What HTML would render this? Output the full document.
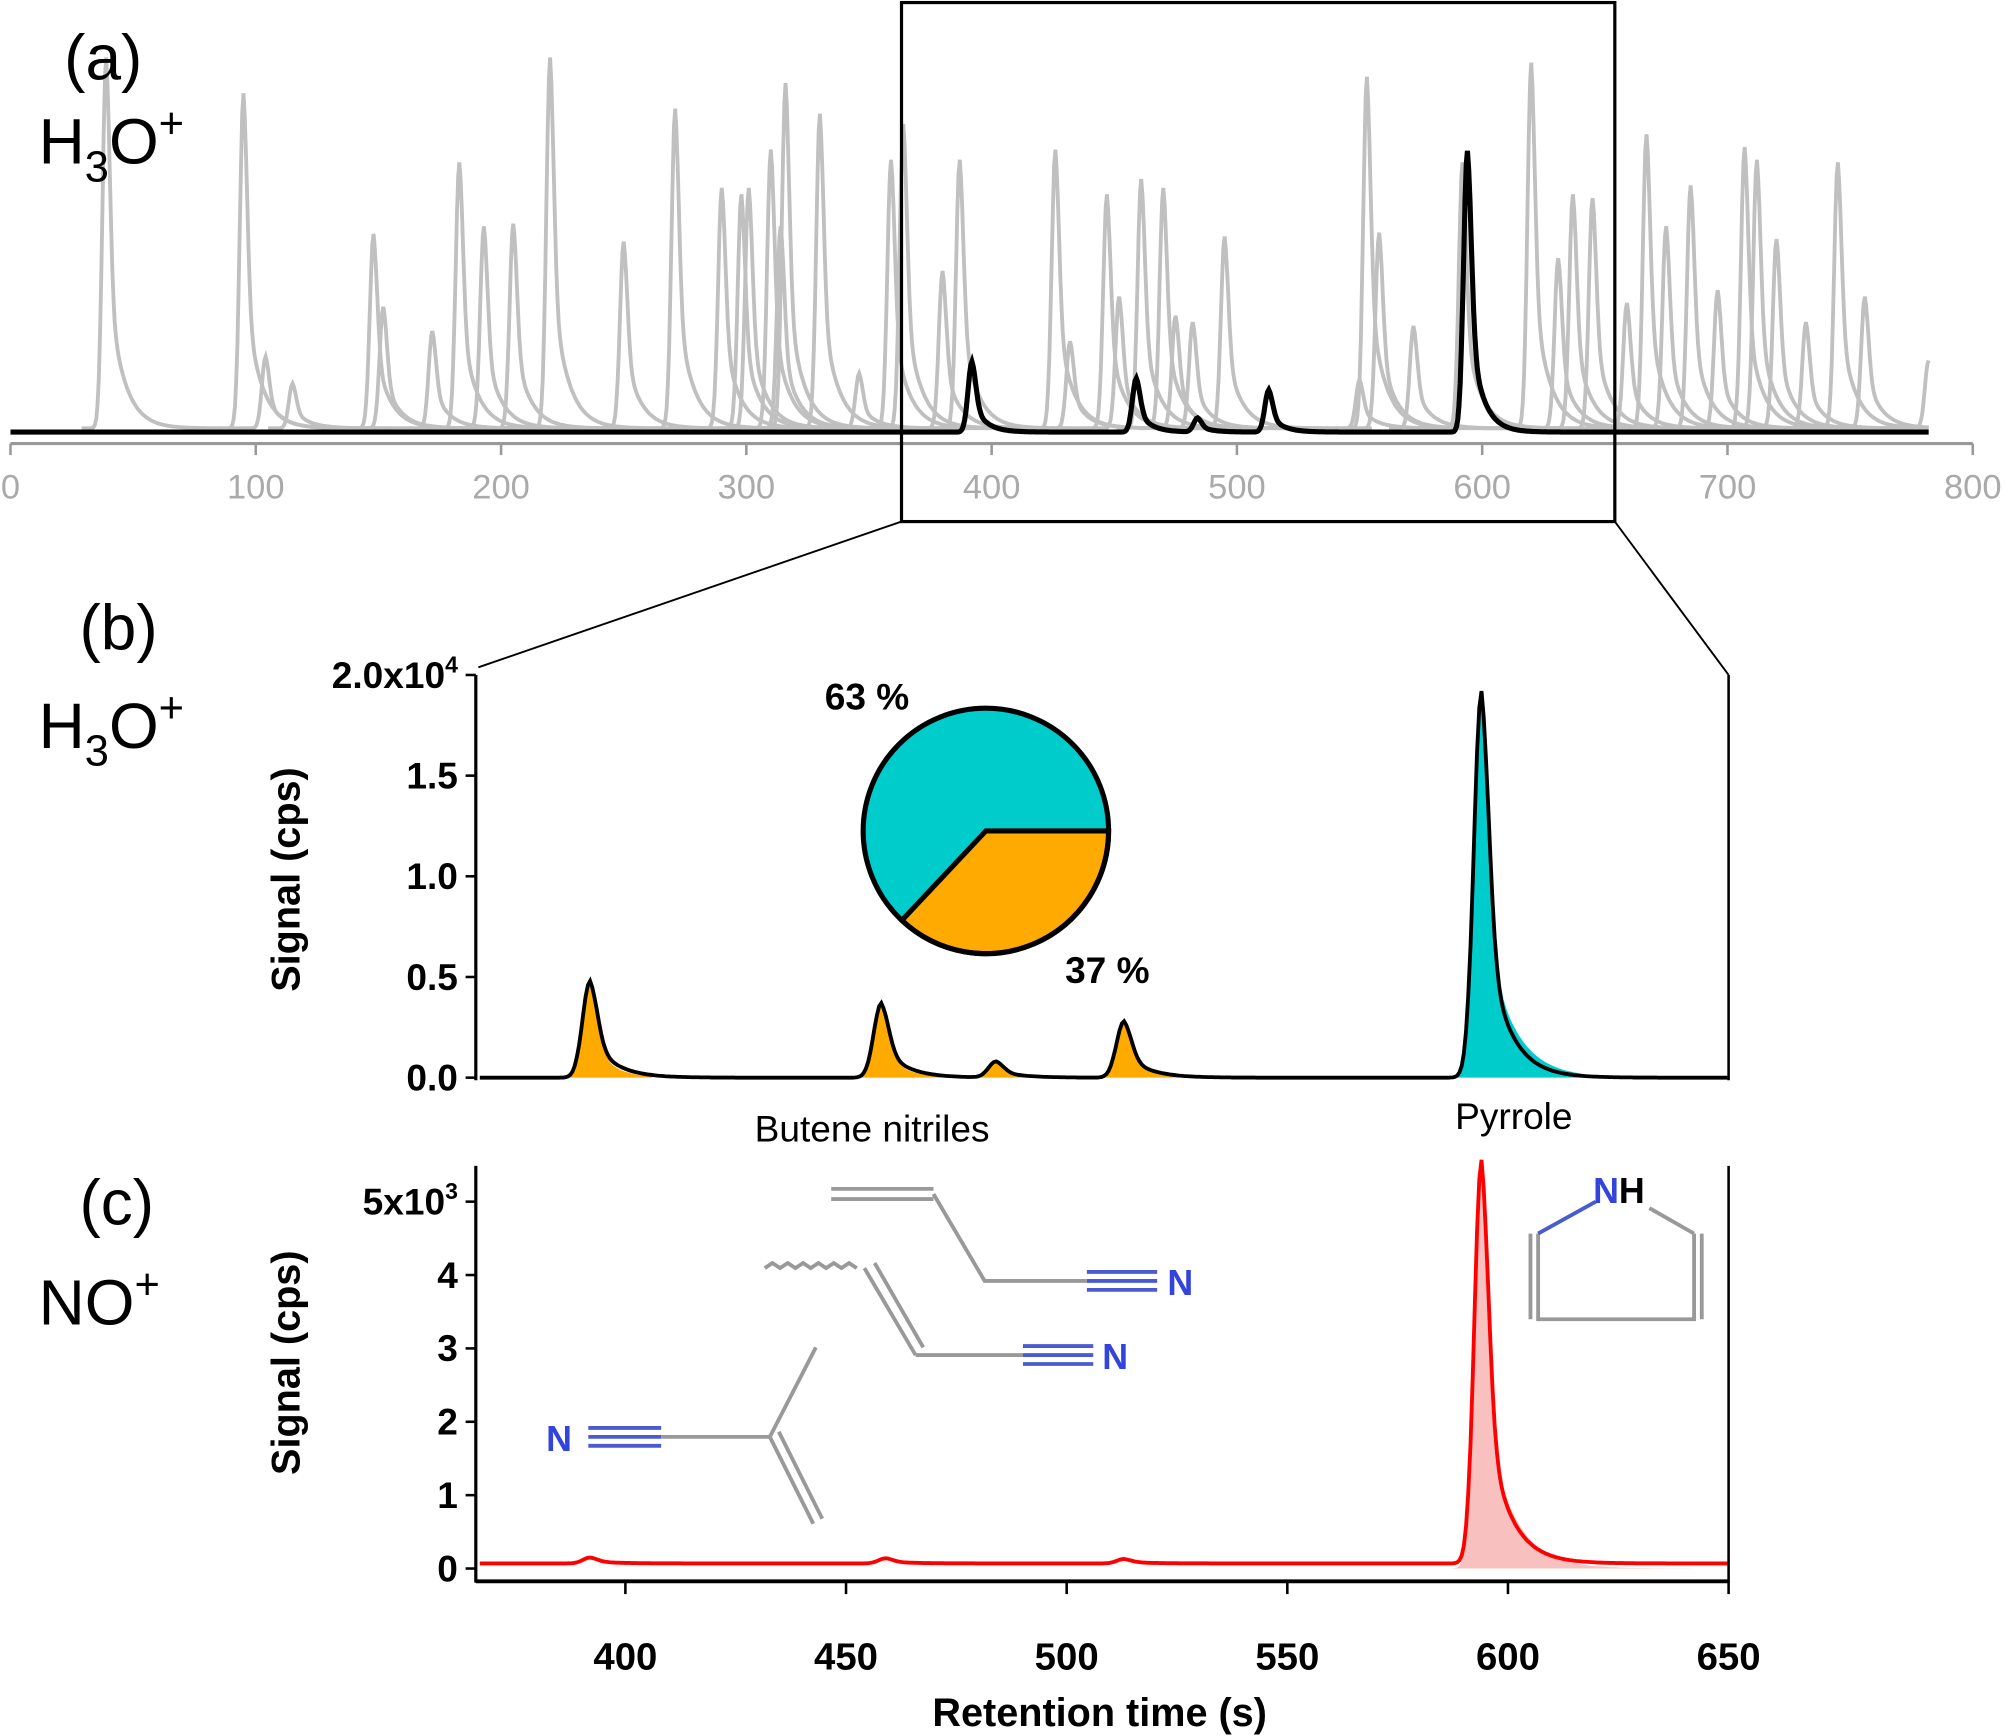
<!DOCTYPE html>
<html><head><meta charset="utf-8"><style>
html,body{margin:0;padding:0;background:#fff}
svg{display:block}
text{font-family:"Liberation Sans",sans-serif}
</style></head><body>
<svg id="fig" width="2005" height="1736" viewBox="0 0 1568 1358" xmlns="http://www.w3.org/2000/svg">
<g id="pa"></g>
<g id="pb"></g>
<g id="pc"></g>
<g font-size="50" fill="#000">
<text x="50" y="62">(a)</text>
<text x="30" y="128">H<tspan font-size="34" dy="14">3</tspan><tspan dy="-14">O</tspan><tspan font-size="34" dy="-20">+</tspan></text>
<text x="62" y="508">(b)</text>
<text x="30" y="585">H<tspan font-size="34" dy="14">3</tspan><tspan dy="-14">O</tspan><tspan font-size="34" dy="-20">+</tspan></text>
<text x="62" y="958">(c)</text>
<text x="30" y="1036">NO<tspan font-size="34" dy="-20">+</tspan></text>
</g>
<rect x="705" y="2" width="558" height="406" fill="none" stroke="#000" stroke-width="2.5"/>
<line x1="705" y1="408" x2="374" y2="522" stroke="#000" stroke-width="1.5"/>
<line x1="1263" y1="408" x2="1352" y2="528" stroke="#000" stroke-width="1.5"/>
<g stroke="#999" stroke-width="3" fill="none">
<g>
<polyline points="1203,965 1203,1032 1325,1032 1325,965" />
<line x1="1197" y1="965" x2="1197" y2="1032"/><line x1="1331" y1="965" x2="1331" y2="1032"/>
<line x1="1203" y1="965" x2="1248" y2="940" stroke="#4a5bd0"/><line x1="1325" y1="965" x2="1290" y2="945"/>
</g>
<g>
<line x1="650" y1="930" x2="730" y2="930"/><line x1="650" y1="938" x2="730" y2="938"/>
<polyline points="730,934 770,1002 850,1002"/>
<line x1="850" y1="995" x2="905" y2="995" stroke="#4a5bd0"/><line x1="850" y1="1002" x2="905" y2="1002" stroke="#4a5bd0"/><line x1="850" y1="1009" x2="905" y2="1009" stroke="#4a5bd0"/>
</g>
<g>
<path d="M598,992 l6,-4 l6,4 l6,-4 l6,4 l6,-4 l6,4 l6,-4 l6,4 l6,-4 l6,4 l6,-4 l6,4"/>
<line x1="676" y1="992" x2="716" y2="1060"/><line x1="684" y1="988" x2="722" y2="1054"/>
<line x1="716" y1="1060" x2="800" y2="1060"/>
<line x1="800" y1="1053" x2="855" y2="1053" stroke="#4a5bd0"/><line x1="800" y1="1060" x2="855" y2="1060" stroke="#4a5bd0"/><line x1="800" y1="1067" x2="855" y2="1067" stroke="#4a5bd0"/>
</g>
<g>
<line x1="460" y1="1117" x2="517" y2="1117" stroke="#4a5bd0"/><line x1="460" y1="1124" x2="517" y2="1124" stroke="#4a5bd0"/><line x1="460" y1="1131" x2="517" y2="1131" stroke="#4a5bd0"/>
<line x1="517" y1="1124" x2="602" y2="1124"/>
<line x1="602" y1="1124" x2="638" y2="1054"/>
<line x1="602" y1="1124" x2="636" y2="1192"/><line x1="609" y1="1120" x2="643" y2="1188"/>
</g>
</g>
<g font-weight="bold" font-size="28">
<text x="1246" y="941" fill="#3344dd">N<tspan fill="#000">H</tspan></text>
<text x="913" y="1013" fill="#3344dd">N</text>
<text x="862" y="1071" fill="#3344dd">N</text>
<text x="427" y="1135" fill="#3344dd">N</text>
</g>
</svg>
<script>
const aTicks=[0,100,200,300,400,500,600,700,800];
const grayCenters=[39,95,104,115,148,152,172,183,193,205,220,250,271,290,298,301,310,314,316,330,346,359,364,380,387,426,432,447,452,461,470,475,482,495,550,553,558,572,592,620,631,637,645,659,667,675,685,696,707,712,720,732,745,756,782];
const grayHeights=[290,262,56,35,152,95,76,208,158,160,290,146,250,188,183,188,218,158,270,246,43,210,238,123,210,218,68,183,103,195,188,88,83,150,38,275,153,80,208,286,133,183,180,98,230,158,190,108,220,210,148,83,208,103,53];
const blackCenters=[392,459,484,513,594];
const blackHeights=[55,42,11,33,220];
const bTicks=[0,0.5,1.0,1.5,2.0];
const bCenters=[392,458,484,513,594];
const bHeights=[0.48,0.37,0.08,0.28,1.92];
const cTicks=[0,1,2,3,4,5];
const cXTicks=[400,450,500,550,600,650];
const cCenters=[392,459,513,594];
const cHeights=[0.08,0.07,0.06,5.5];
const pieValues=[63,37];

const NS="http://www.w3.org/2000/svg";
function mk(p,tag,attrs,name){const e=document.createElementNS(NS,tag);for(const k in attrs)e.setAttribute(k,attrs[k]);


p.appendChild(e);return e;}
function shape(d,s,t){if(d<0)return Math.exp(-0.5*(d/s)*(d/s));return 0.55*Math.exp(-0.5*(d/s)*(d/s))+0.45*Math.exp(-d/t);}
function sig(x,cs,hs,s,t){let v=0;for(let i=0;i<cs.length;i++)v+=hs[i]*shape(x-cs[i],s,t);return v;}

const pa=document.getElementById('pa');
const ax=v=>8+v*1535/800, ay=v=>338-v;
mk(pa,'line',{x1:8,y1:347,x2:1543,y2:347,stroke:'#999','stroke-width':2.5},'x-axis-a');
aTicks.forEach(t=>{mk(pa,'line',{x1:ax(t),y1:347,x2:ax(t),y2:356,stroke:'#999','stroke-width':2},'x-tick-a');
const tx=mk(pa,'text',{x:ax(t),y:390,'text-anchor':'middle','font-size':27,fill:'#aaa'},'x-tick-label-a');tx.textContent=t;});
for(let i=0;i<grayCenters.length;i++){let d='';for(let x=Math.max(0,grayCenters[i]-10);x<=Math.min(782,grayCenters[i]+60);x+=0.5){d+=(d?'L':'M')+ax(x).toFixed(1)+','+(ay(grayHeights[i]*shape(x-grayCenters[i],1.5,6))-3).toFixed(1);}
mk(pa,'path',{d:d,fill:'none',stroke:'#c0c0c0','stroke-width':3},'gray-trace');}
{let d='';for(let x=0;x<=782;x+=0.5){d+=(d?'L':'M')+ax(x).toFixed(1)+','+ay(sig(x,blackCenters,blackHeights,1.6,5)).toFixed(1);}
mk(pa,'path',{d:d,fill:'none',stroke:'#000','stroke-width':4},'black-trace-a');}

const pb=document.getElementById('pb');
const bx=v=>489+(v-400)*863/250, by=v=>843-v*157.5;
const x0=365,x1=650;
function area(p,cs,hs,lo,hi,fill,s,t,yf,name){let d='M'+bx(lo)+','+yf(0);for(let x=lo;x<=hi;x+=0.5)d+='L'+bx(x).toFixed(1)+','+yf(sig(x,cs,hs,s,t)).toFixed(1);d+='L'+bx(hi)+','+yf(0)+'Z';mk(p,'path',{d:d,fill:fill,stroke:'none'},name);}
for(let i=0;i<bCenters.length;i++){const lo=bCenters[i]-8,hi=bCenters[i]+(i==4?56:14);area(pb,[bCenters[i]],[bHeights[i]],lo,hi,i==4?'#00cccc':'#ffaa00',1.7,i==4?6:4,by,i==4?'pyrrole-area':'nitrile-area');}
{let d='';for(let x=x0+2;x<=x1;x+=0.5)d+=(d?'L':'M')+bx(x).toFixed(1)+','+by(sig(x,bCenters,bHeights,1.7,5)).toFixed(1);
mk(pb,'path',{d:d,fill:'none',stroke:'#000','stroke-width':3},'trace-b');}
mk(pb,'line',{x1:372,y1:528,x2:372,y2:845,stroke:'#000','stroke-width':2.5},'y-axis-b');
mk(pb,'line',{x1:1352,y1:528,x2:1352,y2:845,stroke:'#000','stroke-width':2},'right-border-b');
bTicks.forEach(t=>{mk(pb,'line',{x1:364,y1:by(t),x2:372,y2:by(t),stroke:'#000','stroke-width':2},'y-tick-b');
const tx=mk(pb,'text',{x:358,y:by(t)+10,'text-anchor':'end','font-size':29,'font-weight':'bold'},'y-tick-label-b');
if(t===2){tx.innerHTML='2.0x10<tspan font-size="18" dy="-12">4</tspan>';}else tx.textContent=t.toFixed(1);});
{const t=mk(pb,'text',{x:0,y:0,transform:'translate(234,688) rotate(-90)','text-anchor':'middle','font-size':31,'font-weight':'bold'},'y-axis-title-b');t.textContent='Signal (cps)';}
{const t=mk(pb,'text',{x:682,y:893,'text-anchor':'middle','font-size':29},'annotation-butene');t.textContent='Butene nitriles';}
{const t=mk(pb,'text',{x:1184,y:883,'text-anchor':'middle','font-size':29},'annotation-pyrrole');t.textContent='Pyrrole';}
{const cx=771,cy=650,r=96;const tot=pieValues[0]+pieValues[1];const a=pieValues[1]/tot*2*Math.PI;
const ex=cx+r*Math.cos(a),ey=cy+r*Math.sin(a);
mk(pb,'circle',{cx:cx,cy:cy,r:r,fill:'#00cccc'},'pie-slice-63');
mk(pb,'path',{d:`M${cx},${cy}L${cx+r},${cy}A${r},${r} 0 0 1 ${ex},${ey}Z`,fill:'#ffaa00',stroke:'#000','stroke-width':4},'pie-slice-37');
mk(pb,'circle',{cx:cx,cy:cy,r:r,fill:'none',stroke:'#000','stroke-width':4},'pie-outline');
let t=mk(pb,'text',{x:678,y:555,'text-anchor':'middle','font-size':29,'font-weight':'bold'},'pie-label-63');t.textContent=pieValues[0]+' %';
t=mk(pb,'text',{x:866,y:769,'text-anchor':'middle','font-size':29,'font-weight':'bold'},'pie-label-37');t.textContent=pieValues[1]+' %';}

const pc=document.getElementById('pc');
const cy_=v=>1227-v*57.4;
area(pc,[cCenters[3]],[cHeights[3]],586,648,'#f9c0c0',1.6,6,cy_,'pyrrole-area-c');
{let d='';for(let x=x0+2;x<=x1;x+=0.5)d+=(d?'L':'M')+bx(x).toFixed(1)+','+cy_(0.07+sig(x,cCenters,cHeights,1.6,5)).toFixed(1);
mk(pc,'path',{d:d,fill:'none',stroke:'#ff0000','stroke-width':3},'trace-c');}
mk(pc,'line',{x1:372,y1:912,x2:372,y2:1238,stroke:'#000','stroke-width':2.5},'y-axis-c');
mk(pc,'line',{x1:1352,y1:912,x2:1352,y2:1238,stroke:'#000','stroke-width':2},'right-border-c');
mk(pc,'line',{x1:372,y1:1237,x2:1352,y2:1237,stroke:'#000','stroke-width':3},'x-axis-c');
cTicks.forEach(t=>{mk(pc,'line',{x1:364,y1:cy_(t),x2:372,y2:cy_(t),stroke:'#000','stroke-width':2},'y-tick-c');
const tx=mk(pc,'text',{x:358,y:cy_(t)+10,'text-anchor':'end','font-size':29,'font-weight':'bold'},'y-tick-label-c');
if(t===5){tx.innerHTML='5x10<tspan font-size="18" dy="-12">3</tspan>';}else tx.textContent=t;});
cXTicks.forEach(t=>{mk(pc,'line',{x1:bx(t),y1:1237,x2:bx(t),y2:1247,stroke:'#000','stroke-width':2},'x-tick-c');
const tx=mk(pc,'text',{x:bx(t),y:1306,'text-anchor':'middle','font-size':30,'font-weight':'bold'},'x-tick-label-c');tx.textContent=t;});
{const t=mk(pc,'text',{x:0,y:0,transform:'translate(234,1066) rotate(-90)','text-anchor':'middle','font-size':31,'font-weight':'bold'},'y-axis-title-c');t.textContent='Signal (cps)';}
{const t=mk(pc,'text',{x:860,y:1350,'text-anchor':'middle','font-size':31,'font-weight':'bold'},'x-axis-title');t.textContent='Retention time (s)';}
</script>
</body></html>
